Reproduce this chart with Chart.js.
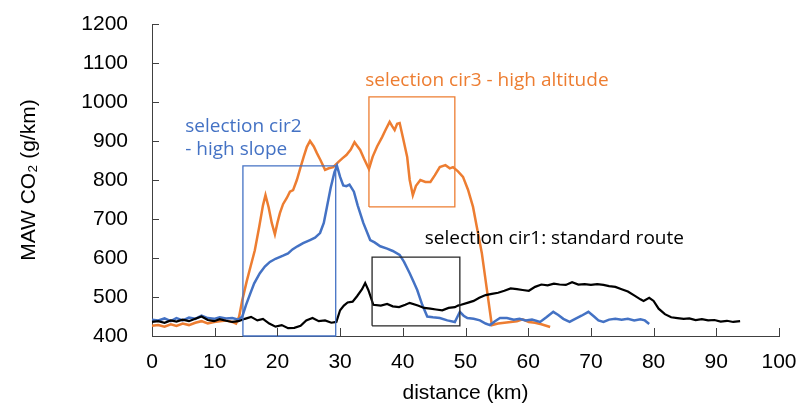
<!DOCTYPE html>
<html>
<head>
<meta charset="utf-8">
<script src="https://cdn.jsdelivr.net/npm/chart.js@4.4.1/dist/chart.umd.min.js"></script>
<style>
  html, body { margin: 0; padding: 0; background: #fff; }
  #wrap { width: 802px; height: 410px; }
</style>
</head>
<body>
<div id="wrap"><canvas id="grafico" width="802" height="410"></canvas></div>
<script>
// distance (km) / MAW CO2 (g/km)
const cir1X = [0, 1, 2, 3, 3.9, 4.9, 5.9, 6.9, 7.9, 8.9, 9.9, 10.8, 11.8, 12.8, 13.8, 14.8, 15.8, 16.8, 17.7, 18.7,
    19.7, 20.7, 21.7, 22.7, 23.7, 24.6, 25.6, 26.6, 27.6, 28.6, 29.4, 30, 30.6, 31.2, 32, 32.7, 33.5, 34, 34.5, 35.3,
    36.5, 37.5, 38.4, 39.4, 40.4, 41.1, 42.4, 43.4, 44.4, 45.3, 46.3, 47.3, 48.3, 48.8, 49.3, 50.3, 51.3, 52.2, 53.2, 54.2,
    55.2, 56.2, 57.2, 58.2, 59.1, 60.1, 61.1, 62.1, 63.1, 64.1, 65, 66, 67, 68, 69, 70, 71, 72, 72.9, 73.9,
    74.9, 75.9, 76.9, 77.9, 78.4, 79.3, 80, 80.8, 81.8, 82.8, 83.8, 84.8, 85.7, 86.7, 87.7, 88.7, 89.7, 90.7, 91.7, 92.7, 93.8];
const cir1Y = [436, 438, 434, 440, 437, 442, 438, 444, 450, 441, 438, 443, 439, 436, 438, 444, 449, 440, 444, 432,
    424, 428, 420, 421, 426, 440, 446, 438, 440, 434, 436, 466, 478, 486, 488, 502, 520, 536, 518, 480,
    478, 482, 476, 474, 480, 485, 478, 472, 470, 468, 466, 472, 474, 478, 480, 485, 490, 498, 505, 508,
    511, 516, 522, 520, 518, 516, 526, 532, 530, 534, 532, 531, 538, 532, 533, 531, 533, 531, 528, 526,
    520, 514, 504, 494, 490, 498, 490, 470, 456, 448, 446, 444, 445, 441, 443, 440, 441, 437, 439, 436, 438];

const cir2X = [0, 1, 2, 3, 3.9, 4.9, 5.9, 6.9, 7.9, 8.9, 9.9, 10.8, 11.8, 12.8, 13.8, 14.4, 15, 15.7, 16.3, 17.2,
    18, 18.8, 19.7, 20.9, 21.7, 22.4, 23.2, 24.1, 25.2, 26, 26.8, 27.4, 27.9, 28.5, 29.1, 29.5, 30, 30.5, 31, 31.5,
    32.2, 32.8, 33.7, 34.8, 35.5, 36.4, 37.5, 38.4, 39.5, 40.2, 41.1, 41.7, 42.3, 43.1, 43.9, 44.8, 45.9, 47.1, 48.3, 49.1,
    49.7, 50.3, 51.3, 52.3, 53.2, 53.9, 54.7, 55.5, 56.6, 57.7, 58.6, 59.6, 60.6, 61.9, 62.9, 64, 64.8, 65.6, 66.6, 67.5,
    68.5, 69.6, 70.5, 71.2, 72, 72.9, 73.9, 74.9, 75.9, 76.9, 77.9, 78.6, 79.3];
const cir2Y = [442, 440, 445, 438, 446, 440, 447, 444, 452, 446, 444, 448, 445, 446, 442, 450, 480, 510, 535, 561,
    578, 590, 598, 606, 612, 622, 630, 638, 646, 652, 664, 690, 731, 780, 820, 836, 808, 786, 784, 788,
    770, 735, 690, 646, 640, 630, 624, 618, 608, 590, 561, 540, 518, 480, 450, 448, 446, 440, 436, 462,
    452, 446, 444, 440, 432, 428, 438, 446, 446, 442, 444, 440, 442, 436, 448, 462, 454, 444, 436, 444,
    452, 462, 450, 440, 436, 442, 444, 442, 444, 440, 443, 440, 431];

const cir3X = [0, 1, 2, 3, 3.9, 4.9, 5.9, 6.9, 7.9, 8.9, 9.9, 10.8, 11.8, 12.8, 13.4, 13.9, 14.4, 15.1, 15.7, 16.4,
    17.1, 17.7, 18.1, 18.6, 19.1, 19.6, 20, 20.4, 20.9, 21.5, 22, 22.5, 23.1, 23.7, 24.2, 24.7, 25.2, 25.8, 26.3, 26.9,
    27.6, 28.2, 28.9, 29.7, 30.4, 31, 31.7, 32.3, 32.7, 33.2, 33.8, 34.6, 35.2, 35.9, 36.7, 37.3, 37.9, 38.3, 38.7, 39.1,
    39.5, 40, 40.7, 41.1, 41.6, 42.1, 42.8, 43.6, 44.4, 45.1, 45.9, 46.8, 47.5, 48, 48.8, 49.6, 50.4, 51.2, 51.8, 52.6,
    53.4, 54.2, 55.2, 56.2, 57.2, 58.2, 59.1, 60.1, 61.1, 62.1, 63.5];
const cir3Y = [426, 428, 424, 430, 426, 432, 428, 434, 438, 432, 436, 438, 440, 436, 432, 450, 492, 540, 577, 620,
    680, 735, 761, 730, 690, 661, 690, 715, 738, 754, 770, 774, 800, 833, 860, 885, 900, 886, 869, 850,
    826, 830, 833, 846, 856, 864, 878, 897, 888, 877, 855, 828, 860, 886, 910, 930, 949, 938, 928, 944,
    946, 910, 859, 800, 761, 785, 800, 795, 795, 812, 833, 838, 830, 833, 822, 808, 775, 731, 680, 613,
    520, 428, 432, 434, 436, 438, 443, 436, 434, 430, 423];

// selection boxes: [x from, x to, y from, y to]
const boxCir2 = [14.5, 29.3, 400, 836];
const boxCir3 = [34.6, 48.3, 731, 1013];
const boxCir1 = [35.1, 49.1, 426, 602];

// labels: [text, x, y]
const labelCir3 = ['selection cir3 - high altitude', 34, 1056];
const labelCir2a = ['selection cir2', 5.3, 936];
const labelCir2b = ['- high slope', 5.3, 879];
const labelCir1 = ['selection cir1: standard route', 43.5, 651];

const xTicks = [0, 10, 20, 30, 40, 50, 60, 70, 80, 90, 100];
const yTicks = [400, 500, 600, 700, 800, 900, 1000, 1100, 1200];

const laranja = '#ED7D31';
const azul = '#4472C4';
const preto = '#000000';

function pontos(xs, ys) {
    return xs.map((x, i) => ({ x: x, y: ys[i] }));
}

function caixa(b) {
    return [
        { x: b[0], y: b[2] }, { x: b[1], y: b[2] }, { x: b[1], y: b[3] },
        { x: b[0], y: b[3] }, { x: b[0], y: b[2] }
    ];
}

function serie(data, cor, largura) {
    return {
        data: data,
        borderColor: cor,
        borderWidth: largura,
        pointRadius: 0,
        tension: 0,
        fill: false,
        clip: false
    };
}

// inward tick marks and annotation text
const extras = {
    id: 'extras',
    afterDraw(chart) {
        const c = chart.ctx;
        const xs = chart.scales.x;
        const ys = chart.scales.y;
        const area = chart.chartArea;
        c.save();
        c.strokeStyle = '#404040';
        c.lineWidth = 1;
        c.beginPath();
        yTicks.forEach(v => {
            const py = Math.round(ys.getPixelForValue(v)) + 0.5;
            c.moveTo(area.left, py);
            c.lineTo(area.left + 7, py);
        });
        xTicks.forEach(v => {
            const px = Math.round(xs.getPixelForValue(v)) + 0.5;
            c.moveTo(px, area.bottom);
            c.lineTo(px, area.bottom - 8);
        });
        c.stroke();

        c.font = '19px "Open Sans", sans-serif';
        c.textBaseline = 'middle';
        c.textAlign = 'left';
        [[labelCir3, laranja], [labelCir2a, azul], [labelCir2b, azul], [labelCir1, preto]].forEach(([l, cor]) => {
            c.fillStyle = cor;
            c.fillText(l[0], xs.getPixelForValue(l[1]), ys.getPixelForValue(l[2]));
        });
        c.restore();
    }
};

const ctx = document.getElementById('grafico').getContext('2d');
const grafico = new Chart(ctx, {
    type: 'line',
    data: {
        datasets: [
            serie(caixa(boxCir2), azul, 1.3),
            serie(caixa(boxCir3), laranja, 1.3),
            serie(caixa(boxCir1), '#262626', 1.3),
            serie(pontos(cir1X, cir1Y), preto, 2.2),
            serie(pontos(cir2X, cir2Y), azul, 2.5),
            serie(pontos(cir3X, cir3Y), laranja, 2.5)
        ]
    },
    plugins: [extras],
    options: {
        responsive: false,
        animation: false,
        layout: { padding: { top: 24, right: 23, left: 0, bottom: 0 } },
        plugins: { legend: { display: false }, tooltip: { enabled: false } },
        scales: {
            x: {
                type: 'linear',
                min: 0,
                max: 100,
                afterBuildTicks: s => { s.ticks = xTicks.map(v => ({ value: v })); },
                afterFit: s => {
                    s.height = 74;
                    s.paddingLeft = 0;
                    s.paddingRight = 0;
                },
                grid: { display: false, drawTicks: false },
                border: { display: true, color: '#404040', width: 1 },
                ticks: { padding: 14, color: '#000', font: { family: 'Liberation Sans', size: 21 } },
                title: {
                    display: true,
                    text: 'distance (km)',
                    color: '#000',
                    font: { family: 'Liberation Sans', size: 21 },
                    padding: { top: 0, bottom: 4 }
                }
            },
            y: {
                min: 400,
                max: 1200,
                afterBuildTicks: s => { s.ticks = yTicks.map(v => ({ value: v })); },
                afterFit: s => {
                    s.width = 152;
                    s.paddingTop = 0;
                    s.paddingBottom = 0;
                },
                grid: { display: false, drawTicks: false },
                border: { display: true, color: '#404040', width: 1 },
                ticks: {
                    padding: 24,
                    color: '#000',
                    font: { family: 'Liberation Sans', size: 21 },
                    callback: v => String(v)
                },
                title: {
                    display: true,
                    text: 'MAW CO₂ (g/km)',
                    color: '#000',
                    font: { family: 'Liberation Sans', size: 21 },
                    padding: { top: 17, bottom: 0 }
                }
            }
        }
    }
});
</script>
</body>
</html>
